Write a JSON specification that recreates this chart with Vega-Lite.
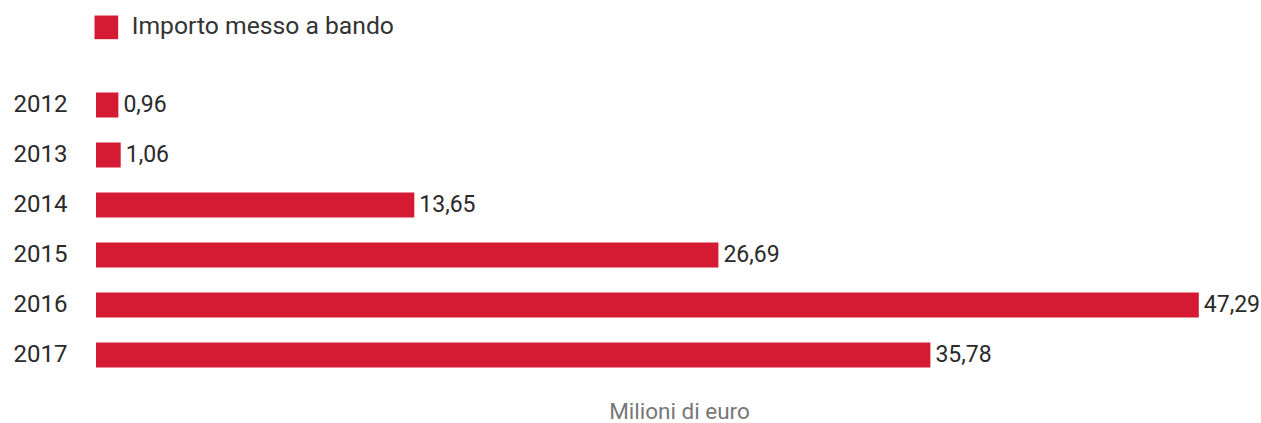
{
  "$schema": "https://vega.github.io/schema/vega-lite/v6.json",
  "autosize": {"type": "none"},
  "width": 1166,
  "height": 300,
  "padding": {"left": 96, "top": 80, "right": 0, "bottom": 43},
  "background": "#ffffff",
  "config": {
    "view": {"stroke": null},
    "font": "Roboto",
    "locale": {"number": {"decimal": ",", "thousands": ".", "grouping": [3], "currency": ["€", ""]}}
  },
  "data": {
    "values": [
      {"anno": "2012", "importo": 0.96},
      {"anno": "2013", "importo": 1.06},
      {"anno": "2014", "importo": 13.65},
      {"anno": "2015", "importo": 26.69},
      {"anno": "2016", "importo": 47.29},
      {"anno": "2017", "importo": 35.78}
    ]
  },
  "encoding": {
    "y": {
      "field": "anno",
      "type": "nominal",
      "sort": null,
      "scale": {"paddingInner": 0.5, "paddingOuter": 0.25},
      "axis": {
        "title": null,
        "domain": false,
        "ticks": false,
        "labelPadding": 29,
        "labelFontSize": 24,
        "labelFontWeight": "normal",
        "labelColor": "#2a2a2a",
        "labelFont": "Roboto"
      }
    },
    "x": {
      "field": "importo",
      "type": "quantitative",
      "scale": {"domain": [0, 50], "nice": false},
      "axis": {
        "title": "Milioni di euro",
        "titleFont": "Roboto",
        "titleFontSize": 22.5,
        "titleFontWeight": "normal",
        "titleColor": "#777777",
        "titlePadding": 20,
        "labels": false,
        "ticks": false,
        "domain": false,
        "grid": false
      }
    }
  },
  "layer": [
    {
      "mark": {"type": "bar"},
      "encoding": {
        "color": {
          "datum": "Importo messo a bando",
          "scale": {"range": ["#D41B33"]},
          "legend": {
            "title": null,
            "orient": "none",
            "legendX": -2,
            "legendY": -65,
            "padding": 0,
            "symbolType": "square",
            "symbolSize": 560,
            "symbolStrokeWidth": 0,
            "labelFontSize": 24.7,
            "labelFont": "Roboto",
            "labelColor": "#333333",
            "labelOffset": 13,
            "labelLimit": 0
          }
        }
      }
    },
    {
      "mark": {
        "type": "text",
        "align": "left",
        "baseline": "middle",
        "dx": 5,
        "fontSize": 23,
        "fontWeight": "normal",
        "font": "Roboto",
        "color": "#2a2a2a"
      },
      "encoding": {
        "text": {"field": "importo", "type": "quantitative", "format": ".2f"}
      }
    }
  ]
}
